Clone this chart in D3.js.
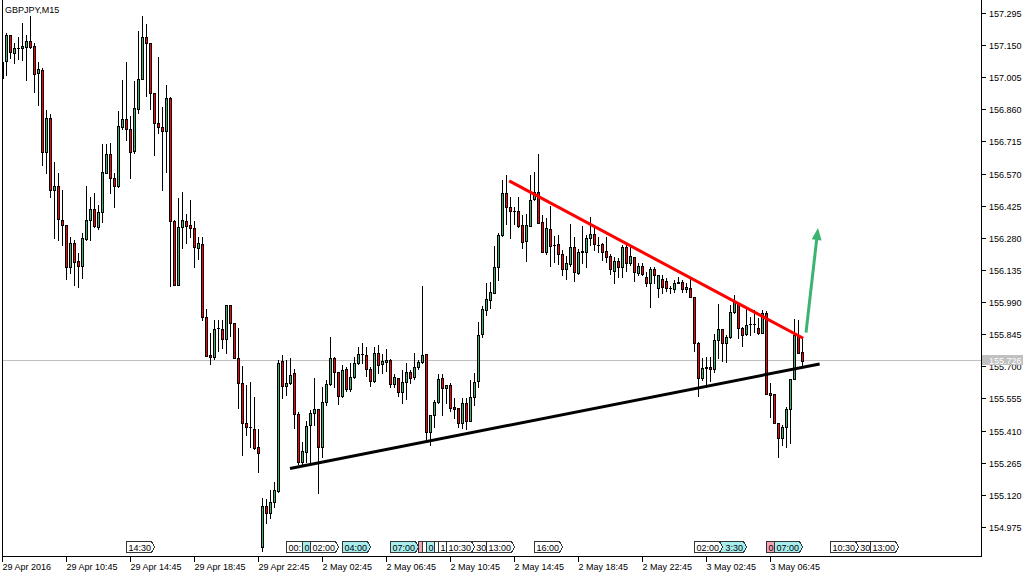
<!DOCTYPE html>
<html><head><meta charset="utf-8">
<script src="https://cdn.jsdelivr.net/npm/d3@7/dist/d3.min.js"></script>
<style>
html,body{margin:0;padding:0;background:#fff;overflow:hidden}
svg{display:block;font-family:"Liberation Sans",Arial,sans-serif;}
</style></head>
<body><svg id="chart" width="1034" height="578"></svg>
<script>
// ---------------- DATA ----------------
const symbolTitle = "GBPJPY,M15";
const opens = [
157.002,157.080,157.196,157.116,157.136,157.136,157.143,157.167,157.146,157.023,
157.038,156.669,156.820,156.496,156.514,156.361,156.338,156.150,156.255,156.177,
156.154,156.274,156.361,156.409,156.330,156.395,156.574,156.657,156.549,156.516,
156.782,156.815,156.770,156.673,156.863,156.996,157.185,157.158,156.933,156.797,
156.779,156.764,156.910,156.357,156.069,156.328,156.356,156.338,156.323,156.233,
156.251,155.924,155.751,155.741,155.872,155.867,155.822,155.977,155.894,155.736,
155.624,155.446,155.425,155.416,155.335,154.883,155.070,155.037,155.086,155.139,
155.724,155.613,155.624,155.669,155.484,155.270,155.315,155.435,155.488,155.506,
155.335,155.538,155.619,155.736,155.673,155.568,155.687,155.598,155.651,155.714,
155.754,155.751,155.687,155.635,155.759,155.709,155.721,155.729,155.619,155.646,
155.583,155.628,155.673,155.651,155.696,155.721,155.756,155.405,155.480,155.540,
155.646,155.601,155.616,155.515,155.511,155.446,155.533,155.455,155.563,155.635,
155.846,155.954,156.000,156.032,156.150,156.293,156.484,156.418,156.403,156.403,
156.338,156.267,156.334,156.454,156.488,156.353,156.218,156.319,156.248,156.251,
156.206,156.138,156.162,156.237,156.123,156.215,156.218,156.278,156.297,156.248,
156.251,156.221,156.198,156.132,156.176,156.147,156.237,156.165,156.195,156.123,
156.153,156.105,156.075,156.138,156.052,156.093,156.087,156.052,156.048,156.078,
156.082,156.048,156.052,156.012,155.807,155.646,155.691,155.698,155.687,155.819,
155.867,155.804,155.831,155.947,155.985,155.872,155.845,155.891,155.891,155.872,
155.852,155.942,155.578,155.575,155.446,155.375,155.425,155.506,155.642,155.842,
155.766];
const highs = [
157.083,157.203,157.196,157.158,157.188,157.249,157.196,157.282,157.158,157.075,
157.045,156.857,156.839,156.624,156.571,156.496,156.338,156.285,156.270,156.210,
156.301,156.514,156.466,156.484,156.428,156.702,156.702,156.707,156.571,156.853,
156.993,157.075,156.830,156.989,157.215,157.282,157.245,157.158,156.933,157.095,
156.869,156.970,156.915,156.361,156.459,156.488,156.388,156.451,156.356,156.283,
156.283,155.959,155.849,155.909,155.909,155.909,155.977,155.977,155.894,155.872,
155.702,155.616,155.631,155.560,155.416,155.104,155.100,155.142,155.179,155.729,
155.751,155.729,155.736,155.688,155.495,155.360,155.453,155.503,155.649,155.506,
155.608,155.638,155.834,155.744,155.673,155.706,155.696,155.714,155.744,155.789,
155.805,155.786,155.696,155.789,155.795,155.756,155.777,155.732,155.665,155.646,
155.684,155.714,155.684,155.762,155.729,156.063,155.756,155.480,155.548,155.665,
155.665,155.615,155.624,155.556,155.511,155.556,155.556,155.638,155.669,155.902,
155.972,156.078,156.082,156.243,156.301,156.541,156.564,156.466,156.421,156.466,
156.383,156.388,156.564,156.579,156.658,156.383,156.368,156.424,156.288,156.293,
156.225,156.198,156.343,156.283,156.228,156.334,156.293,156.373,156.338,156.283,
156.258,156.285,156.207,156.195,156.188,156.248,156.263,156.240,156.195,156.165,
156.165,156.127,156.150,156.150,156.112,156.112,156.097,156.063,156.090,156.102,
156.090,156.078,156.097,156.012,155.811,155.736,155.741,155.741,155.846,155.981,
155.867,155.842,155.977,156.022,155.992,155.879,155.969,155.924,155.954,155.917,
155.954,155.951,155.626,155.575,155.446,155.435,155.518,155.642,155.912,155.909,
155.827];
const lows = [
156.947,157.015,157.091,157.068,157.086,157.083,156.993,157.136,156.940,156.880,
156.609,156.574,156.466,156.278,156.270,156.248,156.093,156.120,156.067,156.060,
156.097,156.270,156.270,156.330,156.319,156.353,156.571,156.484,156.421,156.511,
156.773,156.722,156.549,156.664,156.845,156.996,156.920,156.863,156.654,156.755,
156.496,156.579,156.063,156.069,156.069,156.233,156.258,156.283,156.150,156.183,
155.909,155.748,155.709,155.735,155.771,155.781,155.762,155.837,155.736,155.511,
155.300,155.390,155.335,155.326,155.224,154.868,154.994,155.014,155.066,155.134,
155.556,155.571,155.619,155.420,155.258,155.255,155.267,155.270,155.435,155.127,
155.292,155.526,155.616,155.608,155.529,155.563,155.589,155.589,155.646,155.709,
155.717,155.656,155.611,155.631,155.669,155.671,155.680,155.608,155.605,155.566,
155.536,155.551,155.626,155.642,155.687,155.714,155.371,155.345,155.428,155.536,
155.480,155.536,155.500,155.467,155.428,155.420,155.416,155.455,155.526,155.608,
155.834,155.932,155.962,156.030,156.090,156.288,156.343,156.278,156.343,156.328,
156.233,156.177,156.334,156.451,156.346,156.215,156.207,156.153,156.172,156.162,
156.112,156.093,156.153,156.087,156.117,156.165,156.147,156.248,156.225,156.218,
156.180,156.172,156.117,156.075,156.105,156.105,156.132,156.158,156.087,156.112,
156.112,156.063,155.969,156.075,156.014,156.030,156.041,156.030,156.037,156.075,
156.037,156.037,156.012,155.771,155.566,155.638,155.605,155.635,155.676,155.736,
155.724,155.721,155.827,155.942,155.827,155.792,155.842,155.842,155.856,155.846,
155.849,155.575,155.470,155.443,155.290,155.345,155.335,155.353,155.642,155.762,
155.698];
const closes = [
157.074,157.196,157.120,157.136,157.136,157.146,157.167,157.143,157.018,157.041,
156.669,156.820,156.496,156.514,156.364,156.338,156.150,156.255,156.172,156.154,
156.278,156.361,156.409,156.334,156.395,156.576,156.657,156.549,156.516,156.785,
156.815,156.770,156.669,156.865,156.996,157.185,157.158,156.933,156.797,156.779,
156.761,156.910,156.357,156.069,156.328,156.361,156.335,156.323,156.237,156.255,
155.924,155.748,155.741,155.867,155.872,155.822,155.977,155.894,155.736,155.624,
155.446,155.425,155.425,155.330,155.308,155.070,155.037,155.086,155.142,155.714,
155.613,155.624,155.661,155.484,155.270,155.318,155.431,155.488,155.506,155.335,
155.538,155.619,155.736,155.673,155.568,155.684,155.598,155.651,155.714,155.754,
155.754,155.687,155.635,155.759,155.706,155.724,155.729,155.619,155.651,155.583,
155.628,155.673,155.646,155.696,155.721,155.750,155.405,155.480,155.540,155.643,
155.601,155.615,155.511,155.506,155.446,155.533,155.455,155.563,155.631,155.842,
155.958,156.003,156.037,156.147,156.293,156.484,156.418,156.403,156.403,156.334,
156.263,156.338,156.451,156.488,156.348,156.215,156.323,156.243,156.248,156.206,
156.138,156.165,156.237,156.125,156.215,156.221,156.278,156.297,156.251,156.248,
156.215,156.195,156.138,156.176,156.147,156.237,156.165,156.198,156.127,156.153,
156.116,156.075,156.138,156.112,156.112,156.057,156.052,156.052,156.078,156.082,
156.048,156.057,156.012,155.807,155.646,155.691,155.698,155.687,155.819,155.867,
155.804,155.834,155.947,155.992,155.872,155.842,155.887,155.891,155.891,155.852,
155.942,155.575,155.572,155.443,155.375,155.425,155.506,155.642,155.842,155.762,
155.726];

const priceTicks = [157.295,157.150,157.005,156.860,156.715,156.570,156.425,156.280,
  156.135,155.990,155.845,155.700,155.555,155.410,155.265,155.120,154.975];
const timeTickIndex = [0,16,32,48,64,80,96,112,128,144,160,176,192];
const timeTickLabels = ["29 Apr 2016","29 Apr 10:45","29 Apr 14:45","29 Apr 18:45",
  "29 Apr 22:45","2 May 02:45","2 May 06:45","2 May 10:45","2 May 14:45",
  "2 May 18:45","2 May 22:45","3 May 02:45","3 May 06:45"];
const bidPrice = 155.726;

// calendar event markers (bar index, label, kind) in drawing order
const eventIndex  = [31,71,75,77,85,97,104,105,106,108,109,115,111,121,133,179,173,191,193,211,207,217];
const eventLabels = ["14:30","00:30","01:30","02:00","04:00","07:00","08:45","09:00","09:15","09:45",
  "10:00","11:30","10:30","13:00","16:00","03:30","02:00","06:30","07:00","11:30","10:30","13:00"];
const eventKinds  = ["w","w","c","w","c","c","p","w","c","w","w","w","w","w","w","c","w","p","c","w","w","w"];

// drawn trend lines: [bar index, price]
const resistanceLine = [[126.8,156.537],[200.3,155.827]];
const supportLine    = [[72.0,155.239],[204.4,155.711]];
const arrowLine      = [[201.0,155.852],[204.0,156.325]];

// ---------------- DRAW ----------------
const svg = d3.select("#chart");
const plotL = 2, plotR = 981, plotT = 0, plotB = 556;
const x = d3.scaleLinear().domain([0, 244.75]).range([plotL, plotR]);
const y = d3.scaleLinear().domain([154.975, 157.295]).range([527, 13]);
const col = i => Math.round(x(i));
const row = v => Math.round(y(v));

svg.append("defs").append("clipPath").attr("id","plotClip")
  .append("rect").attr("x",plotL).attr("y",plotT).attr("width",plotR-plotL).attr("height",plotB-plotT);

const plot = svg.append("g").attr("clip-path","url(#plotClip)");

// bid line
plot.append("line").attr("x1",plotL).attr("x2",plotR)
  .attr("y1",row(bidPrice)-0.5).attr("y2",row(bidPrice)-0.5)
  .attr("stroke","#c0c0c0").attr("stroke-width",1).attr("shape-rendering","crispEdges");

const idx = d3.range(opens.length);
const cg = plot.append("g").attr("shape-rendering","crispEdges");
const candle = cg.selectAll("g.c").data(idx).join("g").attr("class","c");
candle.append("line")
  .attr("x1",i=>col(i)+0.5).attr("x2",i=>col(i)+0.5)
  .attr("y1",i=>row(highs[i])).attr("y2",i=>row(lows[i])+1)
  .attr("stroke","#000").attr("stroke-width",1);
candle.each(function(i){
  const g = d3.select(this);
  const c = col(i);
  const top = row(Math.max(opens[i],closes[i]));
  const bot = row(Math.min(opens[i],closes[i]));
  if (bot - top < 1) {
    g.append("line").attr("x1",c-1).attr("x2",c+2).attr("y1",top+0.5).attr("y2",top+0.5)
      .attr("stroke","#000").attr("stroke-width",1);
  } else {
    g.append("rect").attr("x",c-0.5).attr("y",top+0.5).attr("width",2).attr("height",bot-top)
      .attr("fill", closes[i] > opens[i] ? "#3cb371" : "#ff0000")
      .attr("stroke","#000").attr("stroke-width",1);
  }
});

// trend lines
const lineGen = d3.line().x(d=>x(d[0])).y(d=>y(d[1]));
plot.append("path").attr("d",lineGen(resistanceLine)).attr("stroke","#ff0000")
  .attr("stroke-width",3).attr("fill","none");
plot.append("path").attr("d",lineGen(supportLine)).attr("stroke","#000")
  .attr("stroke-width",3).attr("fill","none");

// arrow
(function(){
  const x0=x(arrowLine[0][0]), y0=y(arrowLine[0][1]);
  const x1=x(arrowLine[1][0]), y1=y(arrowLine[1][1]);
  const dx=x1-x0, dy=y1-y0, L=Math.hypot(dx,dy), ux=dx/L, uy=dy/L;
  const hl=12, hw=5;
  const bx=x1-ux*hl, by=y1-uy*hl;
  plot.append("line").attr("x1",x0).attr("y1",y0).attr("x2",bx+ux*1).attr("y2",by+uy*1)
    .attr("stroke","#3cb371").attr("stroke-width",3);
  plot.append("path").attr("d",`M${x1},${y1}L${bx-uy*hw},${by+ux*hw}L${bx+uy*hw},${by-ux*hw}Z`)
    .attr("fill","#3cb371");
})();

// event markers: boxes drawn later cover earlier ones; only visible characters are kept as text
const evFill = {w:"#ffffff", c:"#a6eeee", p:"#f5a3b5"};
const BOXW = 28;
const eg = plot.append("g");
const boxLeft = eventIndex.map(ei => col(ei)+0.5);
function visibleIntervals(k){
  let iv = [[boxLeft[k], boxLeft[k]+BOXW]];
  for (let j=k+1;j<boxLeft.length;j++){
    const a=boxLeft[j], b=boxLeft[j]+BOXW, out=[];
    iv.forEach(([s,e])=>{
      if (b<=s || a>=e) { out.push([s,e]); return; }
      if (a>s) out.push([s,a]);
      if (b<e) out.push([b,e]);
    });
    iv = out;
  }
  return iv;
}
eventIndex.forEach((ei,k)=>{
  const L = boxLeft[k], t=541.5, b=552.5, m=(t+b)/2;
  const g = eg.append("g");
  g.append("path").attr("d",`M${L},${t}H${L+25}L${L+28},${m}L${L+25},${b}H${L}Z`)
    .attr("fill",evFill[eventKinds[k]]).attr("stroke","#333").attr("stroke-width",1)
    .attr("shape-rendering","crispEdges");
  const tmp = g.append("text").attr("x",L+2).attr("y",550.5).attr("font-size","9px")
    .text(eventLabels[k]);
  const node = tmp.node();
  const iv = visibleIntervals(k);
  const label = eventLabels[k];
  const keep = [];
  for (let c=0;c<label.length;c++){
    const s = node.getStartPositionOfChar(c).x;
    const e = node.getEndPositionOfChar(c).x;
    keep.push(iv.some(([a,bb]) => s >= a-0.6 && e <= bb+0.6));
  }
  const starts = d3.range(label.length).map(c=>node.getStartPositionOfChar(c).x);
  tmp.remove();
  // group consecutive visible chars into segments
  let c=0;
  while (c<label.length){
    if (!keep[c]) { c++; continue; }
    let e=c; while (e+1<label.length && keep[e+1]) e++;
    const seg = label.slice(c,e+1);
    if (seg.trim() !== ":" ) {
      g.append("text").attr("x",starts[c]).attr("y",550.5).attr("font-size","9px")
        .attr("fill","#000").text(seg.replace(/^:/,""));
    }
    c=e+1;
  }
});

// frame
const fr = svg.append("g").attr("stroke","#000").attr("stroke-width",1).attr("shape-rendering","crispEdges");
fr.append("line").attr("x1",plotL+0.5).attr("x2",plotL+0.5).attr("y1",0).attr("y2",plotB+1);
fr.append("line").attr("x1",plotR+0.5).attr("x2",plotR+0.5).attr("y1",0).attr("y2",plotB+1);
fr.append("line").attr("x1",plotL).attr("x2",plotR+1).attr("y1",plotB+0.5).attr("y2",plotB+0.5);

// price axis
const pa = svg.append("g");
priceTicks.forEach(v=>{
  const r=row(v);
  pa.append("line").attr("x1",plotR+1).attr("x2",plotR+5).attr("y1",r+0.5).attr("y2",r+0.5)
    .attr("stroke","#000").attr("shape-rendering","crispEdges");
  pa.append("text").attr("x",plotR+8).attr("y",r+3.5).attr("font-size","9px").text(v.toFixed(3));
});
// bid label
(function(){
  const r=row(bidPrice)-1;
  pa.append("rect").attr("x",plotR+1).attr("y",r-5).attr("width",41).attr("height",10).attr("fill","#c0c0c0");
  pa.append("text").attr("x",plotR+8).attr("y",r+3.5).attr("font-size","9px").attr("fill","#fff")
    .text(bidPrice.toFixed(3));
})();

// time axis
const ta = svg.append("g");
timeTickIndex.forEach((ti,k)=>{
  const c=col(ti);
  ta.append("line").attr("x1",c+0.5).attr("x2",c+0.5).attr("y1",plotB+1).attr("y2",plotB+6)
    .attr("stroke","#000").attr("shape-rendering","crispEdges");
  ta.append("text").attr("x",c+0.5).attr("y",570).attr("font-size","9px").text(timeTickLabels[k]);
});

// title
svg.append("text").attr("x",5).attr("y",13).attr("font-size","9px").text(symbolTitle);
</script>
</body></html>
